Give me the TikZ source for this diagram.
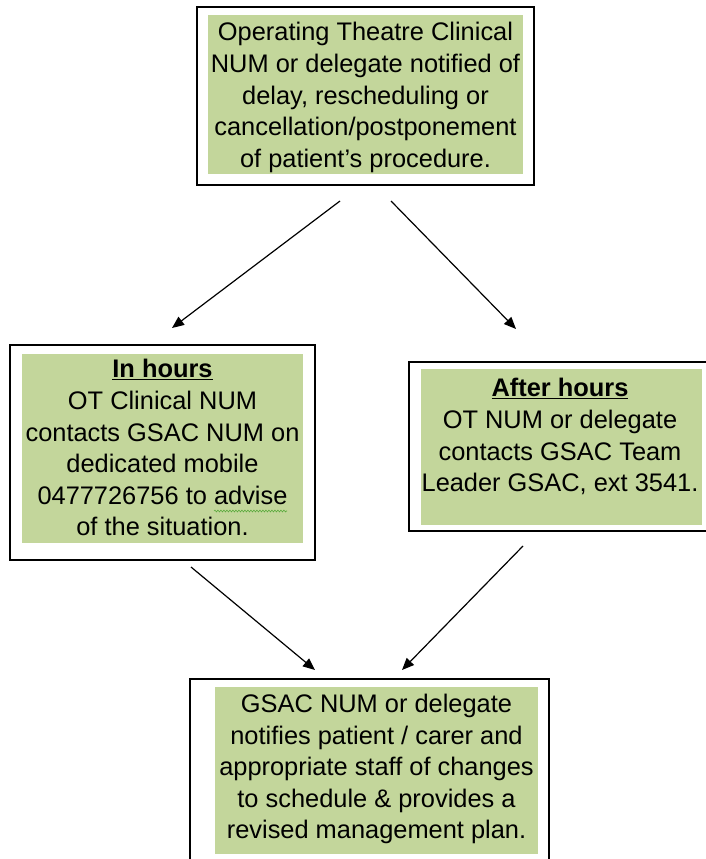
\documentclass[tikz,border=0pt]{standalone}
\usepackage{fontspec}
\setmainfont{Liberation Sans}
\usetikzlibrary{arrows.meta,decorations.pathmorphing}

\definecolor{panelgreen}{RGB}{195,214,155}
\definecolor{squiggle}{RGB}{90,170,60}

\tikzset{
  frame/.style={draw=black, line width=1.3pt, fill=white},
  panel/.style={fill=panelgreen, draw=none},
  body/.style={inner sep=0pt, align=center, anchor=north,
    font=\fontsize{25.4}{31.6}\selectfont},
  flow/.style={line width=1.2pt, -{Triangle[length=12pt,width=10pt]}},
}

\begin{document}
\begin{tikzpicture}[x=1pt, y=-1pt]
\useasboundingbox (0,0) rectangle (705,859);

% --- outer frames ---
\draw[frame] (197,7) rectangle (534,185);
\draw[frame] (10,345) rectangle (315,560);
\draw[frame] (409,362) rectangle (712,531);
\draw[frame] (190,679) rectangle (549,870);

% --- green panels ---
\fill[panel] (208,15) rectangle (523,174);
\fill[panel] (22,354) rectangle (303,543);
\fill[panel] (421,369) rectangle (702,525);
\fill[panel] (215,687) rectangle (538,854);

% --- texts (first baseline 22.4pt below the node top) ---
\node[body] (notify) at (365.5,41-22.4) {\strut Operating Theatre Clinical\\
  NUM or delegate notified of\\ delay, rescheduling or\\
  cancellation/postponement\\ of patient’s procedure.};

\node[body] (inhours) at (162.5,378-22.4) {\strut\textbf{\underline{In hours}}\\
  OT Clinical NUM\\ contacts GSAC NUM on\\ dedicated mobile\\
  0477726756 to advise\\ of the situation.};

\node[body] (afterhours) at (560,397-22.4) {\strut\textbf{\underline{After hours}}\\
  OT NUM or delegate\\ contacts GSAC Team\\ Leader GSAC, ext 3541.};

\node[body] (gsac) at (376.5,712.5-22.4) {\strut GSAC NUM or delegate\\
  notifies patient / carer and\\ appropriate staff of changes\\
  to schedule \& provides a\\ revised management plan.};

% wavy proofing mark under "advise"
\draw[squiggle, line width=0.6pt, decorate,
  decoration={snake, amplitude=0.9pt, segment length=3pt}] (214,511) -- (287,511);

% --- connector end points ---
\coordinate (a1s) at (340,201);  \coordinate (a1e) at (172,328);
\coordinate (a2s) at (391,201);  \coordinate (a2e) at (516,329);
\coordinate (a3s) at (191,567);  \coordinate (a3e) at (315,670);
\coordinate (a4s) at (523,546);  \coordinate (a4e) at (402,670);

\draw[flow] (a1s) -- (a1e);
\draw[flow] (a2s) -- (a2e);
\draw[flow] (a3s) -- (a3e);
\draw[flow] (a4s) -- (a4e);
\end{tikzpicture}
\end{document}
